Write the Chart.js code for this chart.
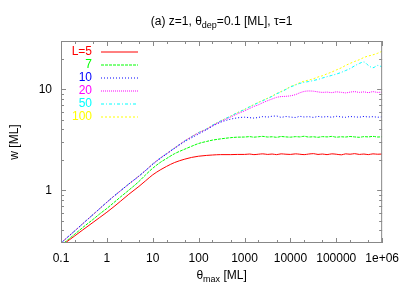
<!DOCTYPE html>
<html>
<head>
<meta charset="utf-8">
<script src="https://cdn.jsdelivr.net/npm/chart.js@4.4.0/dist/chart.umd.min.js"></script>
<style>body{margin:0;background:#fff}</style>
</head>
<body>
<canvas id="ChartW" width="407" height="285"></canvas>
<script>
// ---------------- DATA -------------------
const ThetaMax = [0.1, 0.15, 0.2, 0.3, 0.5, 0.7, 1, 1.5, 2, 3, 5, 7, 10, 15, 20, 30, 50, 70, 100, 150, 200, 300, 500, 700,
    1000, 1300, 1600, 2000, 2500, 3200, 4000, 5000, 6300, 8000,
    1e4, 1.3e4, 1.6e4, 2e4, 2.5e4, 3.2e4, 4e4, 5e4, 6.3e4, 8e4,
    1e5, 1.3e5, 1.6e5, 2e5, 2.5e5, 3.2e5, 4e5, 5e5, 6.3e5, 8e5, 1e6]

const wL5 = [0.28, 0.321, 0.353, 0.405, 0.48, 0.537, 0.605, 0.70, 0.78, 0.91, 1.09, 1.24, 1.42, 1.60, 1.72, 1.88, 2.03, 2.11, 2.17, 2.21, 2.23, 2.25, 2.25, 2.26,
    2.26, 2.28, 2.25, 2.27, 2.29, 2.26, 2.28, 2.25, 2.29, 2.27,
    2.26, 2.29, 2.27, 2.25, 2.28, 2.30, 2.26, 2.28, 2.25, 2.29,
    2.27, 2.24, 2.29, 2.27, 2.30, 2.26, 2.28, 2.25, 2.29, 2.27, 2.28]
const wL7 = [0.285, 0.33, 0.367, 0.428, 0.514, 0.583, 0.66, 0.77, 0.86, 1.0, 1.22, 1.42, 1.65, 1.90, 2.06, 2.30, 2.55, 2.72, 2.90, 3.04, 3.13, 3.22, 3.31, 3.35,
    3.36, 3.39, 3.35, 3.38, 3.41, 3.36, 3.38, 3.34, 3.40, 3.37,
    3.35, 3.39, 3.37, 3.42, 3.36, 3.38, 3.34, 3.39, 3.37, 3.41,
    3.35, 3.38, 3.36, 3.40, 3.37, 3.34, 3.39, 3.37, 3.41, 3.36, 3.38]
const wL10 = [0.30, 0.353, 0.396, 0.467, 0.574, 0.658, 0.76, 0.89, 0.99, 1.15, 1.38, 1.57, 1.80, 2.08, 2.28, 2.60, 3.03, 3.30, 3.60, 3.98, 4.30, 4.70, 5.05, 5.20,
    5.28, 5.22, 5.18, 5.25, 5.35, 5.30, 5.40, 5.42, 5.27, 5.36,
    5.30, 5.25, 5.38, 5.31, 5.34, 5.26, 5.37, 5.30, 5.35, 5.28,
    5.39, 5.31, 5.27, 5.36, 5.32, 5.29, 5.37, 5.31, 5.34, 5.28, 5.33]
const wL20 = [0.30, 0.353, 0.396, 0.467, 0.574, 0.658, 0.76, 0.89, 0.99, 1.15, 1.38, 1.57, 1.82, 2.10, 2.30, 2.62, 3.08, 3.38, 3.70, 4.02, 4.35, 4.78, 5.30, 5.70,
    6.10, 6.45, 6.75, 7.00, 7.35, 7.70, 8.00, 8.30, 8.45, 8.50,
    8.60, 8.85, 9.20, 9.50, 9.60, 9.55, 9.40, 9.30, 9.35, 9.25,
    9.40, 9.30, 9.20, 9.35, 9.45, 9.30, 9.40, 9.25, 9.45, 9.30, 9.35]
const wL50 = [0.30, 0.353, 0.396, 0.467, 0.574, 0.658, 0.76, 0.89, 0.99, 1.15, 1.38, 1.57, 1.82, 2.10, 2.30, 2.62, 3.08, 3.38, 3.72, 4.05, 4.40, 4.85, 5.42, 5.85,
    6.30, 6.70, 7.00, 7.35, 7.70, 8.10, 8.50, 9.00, 9.40, 9.95,
    10.5, 11.0, 11.4, 11.7, 11.9, 12.2, 12.5, 12.9, 13.3, 13.7,
    14.1, 14.7, 15.3, 16.0, 17.0, 18.0, 18.6, 17.2, 16.3, 17.2, 16.6]
const wL100 = [0.30, 0.353, 0.396, 0.467, 0.574, 0.658, 0.76, 0.89, 0.99, 1.15, 1.38, 1.57, 1.82, 2.10, 2.30, 2.62, 3.08, 3.38, 3.72, 4.05, 4.40, 4.85, 5.42, 5.85,
    6.30, 6.72, 7.05, 7.40, 7.75, 8.15, 8.55, 9.05, 9.50, 10.0,
    10.6, 11.1, 11.6, 12.0, 12.3, 12.7, 13.2, 13.6, 14.2, 14.8,
    15.5, 16.3, 17.2, 18.0, 18.8, 19.6, 20.6, 21.3, 21.9, 22.7, 23.8]

const SeriesLabels = ['L=5', '7', '10', '20', '50', '100']
const SeriesData = [wL5, wL7, wL10, wL20, wL50, wL100]
const SeriesColors = ['#ff0000', '#00ff00', '#0000ff', '#ff00ff', '#00ffff', '#ffff00']
const SeriesDash = [[], [3, 1], [1, 2], [1, 1], [3, 2, 1, 2], [2, 2]]

const XTicks = [0.1, 1, 10, 100, 1000, 10000, 100000, 1000000]
const XTickLabels = ['0.1', '1', '10', '100', '1000', '10000', '100000', '1e+06']
const XMinorTicks = [0.2, 0.5, 2, 5, 20, 50, 200, 500, 2000, 5000, 2e4, 5e4, 2e5, 5e5]
const YTicks = [1, 10]
const YMinorTicks = [0.4, 0.5, 0.6, 0.7, 0.8, 0.9, 2, 3, 4, 5, 6, 7, 8, 9, 20]

const Font = "'Liberation Sans', Arial, sans-serif"

// ---------------- PLUGINS -------------------
function DrawSubText(ctx, parts, cx, y) {
    let w = 0
    parts.forEach(p => {ctx.font = p[1] + 'px ' + Font; w += ctx.measureText(p[0]).width})
    let x = cx - w / 2
    parts.forEach(p => {
        ctx.font = p[1] + 'px ' + Font
        ctx.fillText(p[0], x, y + p[2])
        x += ctx.measureText(p[0]).width
    })
}

const FramePlugin = {
    id: 'frame',
    afterDraw(chart) {
        const ctx = chart.ctx
        const {left, right, top, bottom} = chart.chartArea
        const sx = chart.scales.x, sy = chart.scales.y
        ctx.save()
        ctx.strokeStyle = '#888'
        ctx.lineWidth = 1
        ctx.setLineDash([])
        ctx.strokeRect(left + 0.5, top + 0.5, right - left - 1, bottom - top - 1)
        ctx.beginPath()
        const tickX = (v, len) => {
            const px = Math.round(sx.getPixelForValue(v)) + 0.5
            ctx.moveTo(px, bottom); ctx.lineTo(px, bottom - len)
            ctx.moveTo(px, top); ctx.lineTo(px, top + len)
        }
        const tickY = (v, len) => {
            const py = Math.round(sy.getPixelForValue(v)) + 0.5
            ctx.moveTo(left, py); ctx.lineTo(left + len, py)
            ctx.moveTo(right, py); ctx.lineTo(right - len, py)
        }
        XTicks.forEach(v => tickX(v, 5))
        XMinorTicks.forEach(v => tickX(v, 3))
        YTicks.forEach(v => tickY(v, 5))
        YMinorTicks.forEach(v => tickY(v, 3))
        ctx.stroke()

        // legend
        ctx.textAlign = 'right'
        ctx.textBaseline = 'middle'
        ctx.font = '12px ' + Font
        SeriesLabels.forEach((lab, i) => {
            const y = 51.7 + i * 13.07
            ctx.fillStyle = SeriesColors[i]
            ctx.fillText(lab, 92, y)
            ctx.strokeStyle = SeriesColors[i]
            ctx.setLineDash(SeriesDash[i])
            ctx.beginPath()
            ctx.moveTo(101, Math.round(y))
            ctx.lineTo(138, Math.round(y))
            ctx.stroke()
        })
        ctx.setLineDash([])

        // title and x label
        ctx.fillStyle = '#000'
        ctx.textAlign = 'left'
        ctx.textBaseline = 'alphabetic'
        DrawSubText(ctx, [['(a) z=1, θ', 12, 0], ['dep', 9, 3], ['=0.1 [ML], τ=1', 12, 0]], (left + right) / 2, 25)
        DrawSubText(ctx, [['θ', 12, 0], ['max', 9, 3], [' [ML]', 12, 0]], (left + right) / 2, 279)
        ctx.restore()
    }
}

// ---------------- CHART -------------------
const ChartW = document.getElementById('ChartW').getContext('2d')
new Chart(ChartW, {
    type: 'scatter',
    data: {
        datasets: SeriesData.map((arr, i) => ({
            label: SeriesLabels[i],
            data: ThetaMax.map((t, j) => ({x: t, y: arr[j]})),
            showLine: true,
            borderColor: SeriesColors[i],
            backgroundColor: SeriesColors[i],
            borderWidth: 1,
            borderDash: SeriesDash[i],
            pointRadius: 0,
            cubicInterpolationMode: 'monotone'
        }))
    },
    options: {
        responsive: false,
        animation: false,
        layout: {padding: {top: 41, right: 23, left: 0, bottom: 0}},
        plugins: {
            legend: {display: false},
            title: {display: false},
            tooltip: {enabled: false}
        },
        scales: {
            x: {
                type: 'logarithmic',
                min: 0.1,
                max: 1e6,
                grid: {display: false, drawTicks: false},
                border: {display: false},
                afterBuildTicks: scale => {scale.ticks = XTicks.map(v => ({value: v}))},
                afterFit: scale => {scale.height = 42},
                ticks: {
                    autoSkip: false,
                    maxRotation: 0,
                    padding: 8,
                    color: '#000',
                    font: {family: Font, size: 12},
                    callback: v => XTickLabels[XTicks.indexOf(v)]
                }
            },
            y: {
                type: 'logarithmic',
                min: 0.3,
                max: 30,
                grid: {display: false, drawTicks: false},
                border: {display: false},
                afterBuildTicks: scale => {scale.ticks = YTicks.map(v => ({value: v}))},
                afterFit: scale => {scale.width = 61},
                title: {
                    display: true,
                    text: 'w [ML]',
                    color: '#000',
                    padding: {top: 7, bottom: 0},
                    font: {family: Font, size: 12}
                },
                ticks: {
                    padding: 9,
                    color: '#000',
                    font: {family: Font, size: 12},
                    callback: v => String(v)
                }
            }
        }
    },
    plugins: [FramePlugin]
})
</script>
</body>
</html>
